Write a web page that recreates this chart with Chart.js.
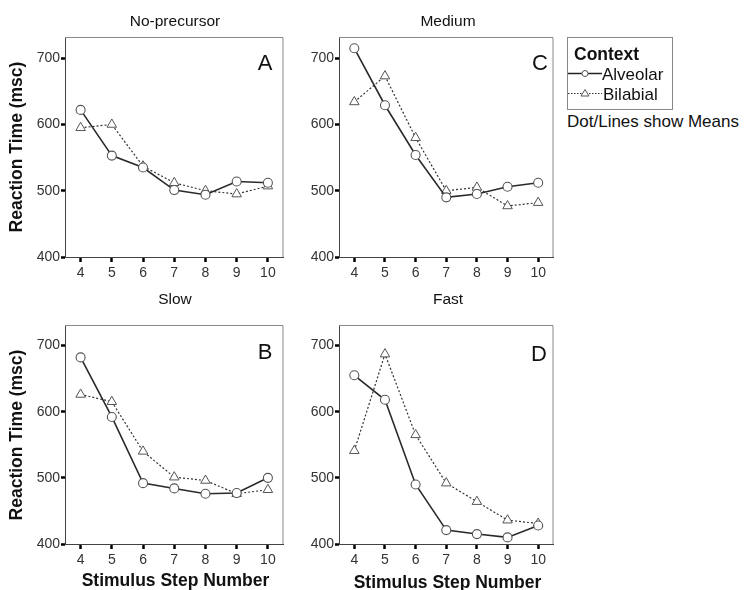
<!DOCTYPE html>
<html><head><meta charset="utf-8">
<script src="https://cdn.jsdelivr.net/npm/chart.js@4.4.0/dist/chart.umd.min.js"></script>
<style>
body{margin:0;background:#fff;width:751px;height:590px;position:relative;overflow:hidden;font-family:'Liberation Sans',Arial,sans-serif;color:#111;}
canvas{position:absolute;}
.t{position:absolute;white-space:nowrap;line-height:1;}
.c{transform:translate(-50%,-50%);}
.l{transform:translate(0,-50%);}
.rot{transform:translate(-50%,-50%) rotate(-90deg);}
.b{font-weight:bold;}
#legend{position:absolute;left:567px;top:37px;width:104px;height:71px;border:1px solid #888;}
</style></head><body>
<canvas id="cA" width="290" height="290" style="left:0;top:0"></canvas>
<canvas id="cC" width="270" height="290" style="left:290px;top:0"></canvas>
<canvas id="cB" width="290" height="300" style="left:0;top:290px"></canvas>
<canvas id="cD" width="270" height="300" style="left:290px;top:290px"></canvas>

<div class="t c" style="left:175px;top:20.5px;font-size:15.5px">No-precursor</div>
<div class="t c" style="left:448px;top:20.5px;font-size:15.5px">Medium</div>
<div class="t c" style="left:175px;top:299px;font-size:15.5px">Slow</div>
<div class="t c" style="left:448px;top:299px;font-size:15.5px">Fast</div>

<div class="t c" style="left:265px;top:62.5px;font-size:22px">A</div>
<div class="t c" style="left:540px;top:62.5px;font-size:22px">C</div>
<div class="t c" style="left:265px;top:352px;font-size:22px">B</div>
<div class="t c" style="left:539px;top:353.5px;font-size:22px">D</div>

<div class="t rot b" style="left:17px;top:147px;font-size:17.5px">Reaction Time (msc)</div>
<div class="t rot b" style="left:17px;top:435px;font-size:17.5px">Reaction Time (msc)</div>
<div class="t c b" style="left:175.5px;top:581px;font-size:17.5px">Stimulus Step Number</div>
<div class="t c b" style="left:447.5px;top:583px;font-size:17.5px">Stimulus Step Number</div>

<div id="legend"></div>
<div class="t l b" style="left:574px;top:54.5px;font-size:17.5px">Context</div>
<svg style="position:absolute;left:566px;top:65px" width="40" height="36">
  <line x1="2" y1="8.5" x2="36" y2="8.5" stroke="#222" stroke-width="1.4"/>
  <circle cx="19" cy="8.5" r="3" fill="#fff" stroke="#555" stroke-width="1"/>
  <line x1="2" y1="28.5" x2="36" y2="28.5" stroke="#333" stroke-width="1.2" stroke-dasharray="1.5,1.5"/>
  <polygon points="19,24.5 23,31 15,31" fill="#fff" stroke="#555" stroke-width="1"/>
</svg>
<div class="t l" style="left:602px;top:74px;font-size:17px">Alveolar</div>
<div class="t l" style="left:603px;top:93.5px;font-size:17px">Bilabial</div>
<div class="t l" style="left:567px;top:121px;font-size:17px">Dot/Lines show Means</div>

<script>
const steps = ['4','5','6','7','8','9','10'];
const yTicks = [400, 500, 600, 700];
const noPrecursorAlveolar = [622, 553, 535, 501, 494, 514, 512];
const noPrecursorBilabial = [595, 600, 537, 512, 500, 495, 507];
const mediumAlveolar = [715, 629, 554, 490, 495, 506, 512];
const mediumBilabial = [634, 673, 580, 500, 505, 477, 482];
const slowAlveolar = [682, 592, 492, 484, 476, 477, 500];
const slowBilabial = [626, 615, 540, 501, 496, 476, 482];
const fastAlveolar = [655, 618, 490, 421, 415, 410, 428];
const fastBilabial = [541, 687, 565, 492, 464, 436, 431];

const FONT = "'Liberation Sans', Arial, sans-serif";

const frame = {
  id: 'frame',
  afterDraw(chart) {
    const a = chart.chartArea, ctx = chart.ctx;
    ctx.save();
    ctx.strokeStyle = '#888';
    ctx.lineWidth = 1;
    ctx.beginPath();
    ctx.moveTo(a.left, a.top + 0.5);
    ctx.lineTo(a.right - 0.5, a.top + 0.5);
    ctx.lineTo(a.right - 0.5, a.bottom);
    ctx.stroke();
    ctx.restore();
  }
};

function makePanel(id, alv, bil, yMax, yW, padTop, padRight, xH) {
  new Chart(document.getElementById(id), {
    type: 'line',
    data: {
      labels: steps,
      datasets: [
        { label: 'Alveolar', data: alv, borderColor: '#2a2a2a', borderWidth: 1.6, tension: 0,
          pointStyle: 'circle', pointRadius: 4.5, pointBorderColor: '#555', pointBorderWidth: 1.1,
          pointBackgroundColor: '#fff' },
        { label: 'Bilabial', data: bil, borderColor: '#333', borderWidth: 1.2, borderDash: [2, 2], tension: 0,
          pointStyle: 'triangle', pointRadius: 5.5, pointBorderColor: '#555', pointBorderWidth: 1,
          pointBackgroundColor: '#fff' }
      ]
    },
    options: {
      responsive: false, animation: false, events: [],
      layout: { padding: { left: 0, top: padTop, right: padRight, bottom: 0 } },
      plugins: { legend: { display: false }, tooltip: { enabled: false }, title: { display: false } },
      scales: {
        x: {
          type: 'category', offset: true,
          grid: { display: true, offset: false, drawOnChartArea: false, drawTicks: true, tickLength: 5, tickWidth: 2.5, tickColor: '#000' },
          border: { display: true, color: '#444', width: 1 },
          ticks: { color: '#333', font: { size: 14, family: FONT }, padding: 3, maxRotation: 0, autoSkip: false },
          afterFit(s) { s.height = xH; }
        },
        y: {
          min: 400, max: yMax,
          grid: { display: true, drawOnChartArea: false, drawTicks: true, tickLength: 4, tickWidth: 2.5, tickColor: '#000' },
          border: { display: true, color: '#444', width: 1 },
          ticks: { color: '#333', font: { size: 14, family: FONT }, padding: 1 },
          afterBuildTicks(s) { s.ticks = yTicks.map(v => ({ value: v })); },
          afterFit(s) { s.width = yW; }
        }
      }
    },
    plugins: [frame]
  });
}

makePanel('cA', noPrecursorAlveolar, noPrecursorBilabial, 732, 65, 37, 6, 33);
makePanel('cC', mediumAlveolar, mediumBilabial, 732, 49, 37, 2, 33);
makePanel('cB', slowAlveolar, slowBilabial, 731, 65, 35, 6, 46);
makePanel('cD', fastAlveolar, fastBilabial, 731, 49, 35, 2, 46);
</script>
</body></html>
